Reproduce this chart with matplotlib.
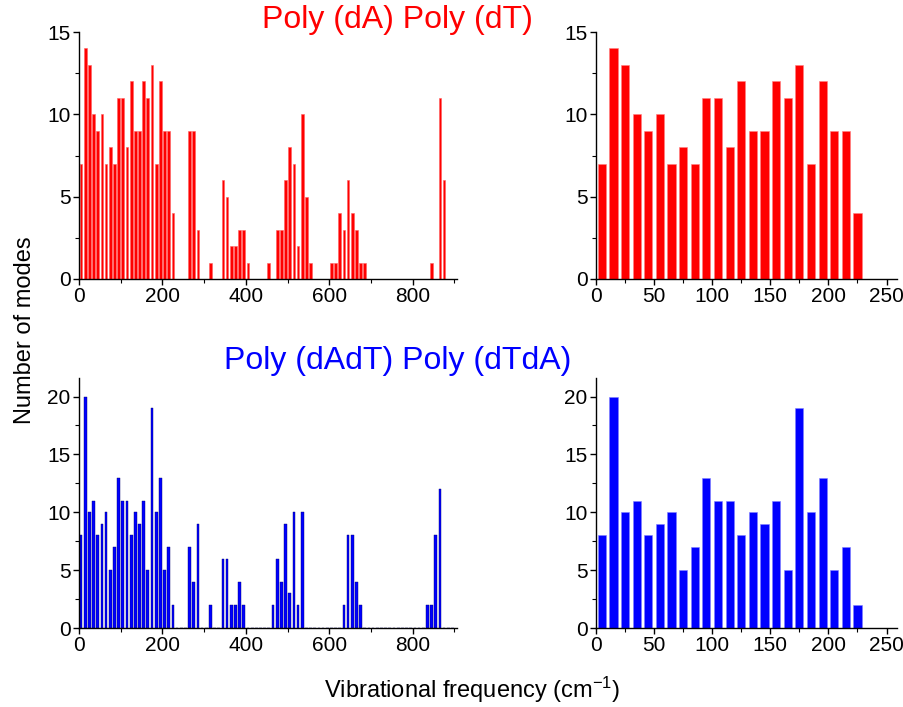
import numpy as np
import matplotlib
matplotlib.use("Agg")
import matplotlib.pyplot as plt
from matplotlib.ticker import MultipleLocator

plt.rcParams['font.family'] = ['Liberation Sans', 'DejaVu Sans']
plt.rcParams['mathtext.fontset'] = 'custom'
plt.rcParams['mathtext.rm'] = 'Liberation Sans'
plt.rcParams['mathtext.it'] = 'Liberation Sans:italic'
plt.rcParams['mathtext.bf'] = 'Liberation Sans:bold'

# Bin centres (cm^-1), 10 cm^-1 bins from 0 to 900
bin_width = 10
bin_centers = np.arange(5, 900, bin_width)

# Number of modes per bin: Poly(dA) Poly(dT)
counts_dA_dT = [
    7, 14, 13, 10, 9, 10, 7, 8, 7, 11,      # 5 - 95
    11, 8, 12, 9, 9, 12, 11, 13, 7, 12,     # 105 - 195
    9, 9, 4, 0, 0, 0, 9, 9, 3, 0,           # 205 - 295
    0, 1, 0, 0, 6, 5, 2, 2, 3, 3,           # 305 - 395
    1, 0, 0, 0, 0, 1, 0, 3, 3, 6,           # 405 - 495
    8, 7, 2, 10, 5, 1, 0, 0, 0, 0,          # 505 - 595
    1, 1, 4, 3, 6, 4, 3, 1, 1, 0,           # 605 - 695
    0, 0, 0, 0, 0, 0, 0, 0, 0, 0,           # 705 - 795
    0, 0, 0, 0, 1, 0, 11, 6, 0, 0,          # 805 - 895
]

# Number of modes per bin: Poly(dAdT) Poly(dTdA)
counts_dAdT_dTdA = [
    8, 20, 10, 11, 8, 9, 10, 5, 7, 13,      # 5 - 95
    11, 11, 8, 10, 9, 11, 5, 19, 10, 13,    # 105 - 195
    5, 7, 2, 0, 0, 0, 7, 4, 9, 0,           # 205 - 295
    0, 2, 0, 0, 6, 6, 2, 2, 4, 2,           # 305 - 395
    0, 0, 0, 0, 0, 0, 2, 6, 4, 9,           # 405 - 495
    3, 10, 2, 10, 0, 0, 0, 0, 0, 0,         # 505 - 595
    0, 0, 0, 2, 8, 8, 4, 2, 0, 0,           # 605 - 695
    0, 0, 0, 0, 0, 0, 0, 0, 0, 0,           # 705 - 795
    0, 0, 0, 2, 2, 8, 12, 0, 0, 0,          # 805 - 895
]

title_top = "Poly (dA) Poly (dT)"
title_bottom = "Poly (dAdT) Poly (dTdA)"
ylabel = "Number of modes"
xlabel = "Vibrational frequency (cm$^{\\mathrm{-1}}$)"

W, H = 904, 707
fig = plt.figure(figsize=(W / 100, H / 100), dpi=100)


def ax_at(x0, y_top, x1, y_bot):
    return fig.add_axes([x0 / W, 1 - y_bot / H, (x1 - x0) / W, (y_bot - y_top) / H])


ax_tl = ax_at(79, 32, 457, 279)
ax_tr = ax_at(596, 32, 897, 279)
ax_bl = ax_at(79, 378, 457, 628)
ax_br = ax_at(596, 378, 897, 628)

tick_fs = 15


def style(ax, xlim, ylim, xmaj, xmin, ymaj=5, ymin=2.5):
    ax.set_xlim(*xlim)
    ax.set_ylim(*ylim)
    for s in ("top", "right"):
        ax.spines[s].set_visible(False)
    for s in ("left", "bottom"):
        ax.spines[s].set_linewidth(1.0)
    ax.xaxis.set_major_locator(MultipleLocator(xmaj))
    ax.xaxis.set_minor_locator(MultipleLocator(xmin))
    ax.yaxis.set_major_locator(MultipleLocator(ymaj))
    ax.yaxis.set_minor_locator(MultipleLocator(ymin))
    ax.tick_params(which="major", direction="out", length=4, width=1,
                   labelsize=tick_fs, pad=2)
    ax.tick_params(which="minor", direction="out", length=3, width=0.8)
    ax.patch.set_alpha(0)


# Top-left: full range, red
ax_tl.bar(bin_centers, counts_dA_dT, width=6.5, color="#ff0000",
          edgecolor="#ff6060", linewidth=0.4, zorder=2)
style(ax_tl, (0, 906), (0, 15), 200, 100)

# Top-right: zoom 0-260, red
ax_tr.bar(bin_centers, counts_dA_dT, width=7, color="#ff0000",
          edgecolor="#ff8080", linewidth=0.4, zorder=2)
style(ax_tr, (0, 259), (0, 15), 50, 25)

# Bottom-left: full range, blue
ax_bl.bar(bin_centers, counts_dAdT_dTdA, width=6.5, color="#0000ff",
          edgecolor="#000070", linewidth=0.3, zorder=2)
style(ax_bl, (0, 906), (0, 21.6), 200, 100)

# Bottom-right: zoom 0-260, blue
ax_br.bar(bin_centers, counts_dAdT_dTdA, width=7, color="#0000ff",
          edgecolor="#8080ff", linewidth=0.4, zorder=2)
style(ax_br, (0, 259), (0, 21.6), 50, 25)

fig.text(397 / W, 1 - 20 / H, title_top, color="#ff0000", fontsize=23,
         ha="center", va="center")
fig.text(398 / W, 1 - 361 / H, title_bottom, color="#0000ff", fontsize=23,
         ha="center", va="center")
fig.text(25 / W, 1 - 330 / H, ylabel, fontsize=17, rotation=90,
         ha="center", va="center")
fig.text(472 / W, 1 - 690 / H, xlabel, fontsize=17,
         ha="center", va="center")

fig.savefig("out.png", dpi=100)
